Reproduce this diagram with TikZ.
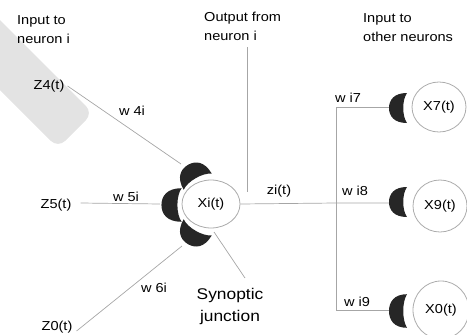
\documentclass[tikz,border=0pt]{standalone}
\usepackage{fontspec}
\setmainfont{Liberation Sans}[FakeStretch=1.12]
\usetikzlibrary{shapes.geometric}
\begin{document}
\begin{tikzpicture}[x=1pt,y=-1pt,
  lbl/.style={inner sep=0pt,font=\fontsize{13}{19}\selectfont},
  hdr/.style={lbl,align=left,anchor=north west},
  wire/.style={draw=gray!70,line width=0.7pt},
  cell/.style={ellipse,draw=gray!65,line width=0.8pt,inner sep=0pt,fill=white,
               font=\fontsize{13}{15}\selectfont},
  syn/.pic={\fill[black!85] (5,-15) .. controls (-8,-15) and (-13,-8) .. (-13,0)
             .. controls (-13,8) and (-8,15) .. (5,15)
             .. controls (0,8) and (0,-8) .. (5,-15) -- cycle;}
]
\useasboundingbox (0,0) rectangle (467,335);

% light diagonal band in the upper left corner
\begin{scope}
  \clip (0,0) rectangle (467,335);
  \fill[black!11,rounded corners=10pt] (-30,-10) -- (93,113) -- (58,148) -- (-30,60) -- cycle;
\end{scope}

% column headings
\node[hdr] (hin)  at (17,15)  {Input to\\neuron i};
\node[hdr] (hout) at (204,12) {Output from\\neuron i};
\node[hdr] (hoth) at (363,13) {Input to\\other neurons};

% inputs
\node[lbl] (z4) at (49,86)  {Z4(t)};
\node[lbl] (z5) at (56,205) {Z5(t)};
\node[lbl] (z0) at (57,327) {Z0(t)};

% neurons
\node[cell,minimum width=58pt,minimum height=48pt] (xi) at (211,204) {Xi(t)};
\node[cell,minimum width=54pt,minimum height=50pt] (x7) at (439,107) {X7(t)};
\node[cell,minimum width=54pt,minimum height=52pt] (x9) at (440,206) {X9(t)};
\node[cell,minimum width=56pt,minimum height=58pt] (x0) at (441,310) {X0(t)};

% synapse contact points
\coordinate (s4) at (181,164);
\coordinate (s5) at (160,204);
\coordinate (s6) at (182,246);
\coordinate (s7) at (392,107);
\coordinate (s8) at (392,203);
\coordinate (s9) at (392,310);
\coordinate (bus) at (336,203);
\coordinate (busT) at (336,107);
\coordinate (busB) at (336,310);
\coordinate (oTop) at (247,47);
\coordinate (oBot) at (247,192);
\coordinate (jA) at (214,232);

% connectors
\draw[wire] (z4.east) ++(3,0) -- (s4);
\draw[wire] (z5.east) ++(9,-2) -- (s5);
\draw[wire] (z0.east) ++(4,4) -- (s6);
\draw[wire] (oTop) -- (oBot);
\draw[wire] (xi.east) -- (bus) -- (s8);
\draw[wire] (busT) -- (busB);
\draw[wire] (busT) -- (s7);
\draw[wire] (busB) -- (s9);

% synaptic junctions
\pic[rotate=-60,scale=1.08] at (195,177) {syn};
\pic[scale=1.12] at (176,205) {syn};
\pic[rotate=60,scale=1.08] at (195,232) {syn};
\pic at (402,108) {syn};
\pic at (402,202) {syn};
\pic[yscale=1.12] at (402,311) {syn};

% weights
\node[lbl] (w4) at (132,111) {w 4i};
\node[lbl] (w5) at (126,197) {w 5i};
\node[lbl] (w6) at (154,288) {w 6i};
\node[lbl] (zi) at (279,191) {zi(t)};
\node[lbl] (w7) at (348,98)  {w i7};
\node[lbl] (w8) at (355,191) {w i8};
\node[lbl] (w9) at (357,302) {w i9};

% junction label
\node[inner sep=0pt,align=center,font=\fontsize{15.5}{22}\selectfont] (junc) at (230,306) {Synoptic\\junction};
\draw[wire] (jA) -- (245,278);
\end{tikzpicture}
\end{document}
